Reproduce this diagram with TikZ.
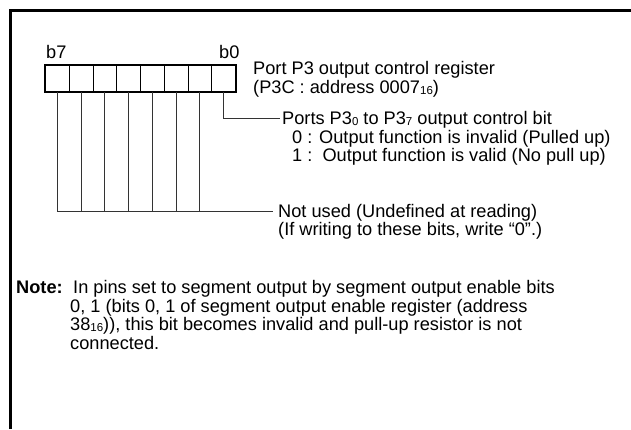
\documentclass[tikz,border=0pt]{standalone}
\usepackage{fontspec}
\setmainfont{Liberation Sans}
\newcommand{\subx}[1]{\raisebox{-1.2pt}{\fontsize{11.5}{11.5}\selectfont #1}}
\begin{document}
\begin{tikzpicture}[x=1pt,y=-1pt,
  txt/.style={anchor=base west,inner sep=0pt,font=\fontsize{18.2}{19}\selectfont},
  cell/.style={draw,line width=1.1pt,minimum width=23.75pt,minimum height=26pt,inner sep=0pt,anchor=north west},
  lead/.style={draw,black!80,line width=1pt}]
\useasboundingbox (0,0) rectangle (631,429);
\draw[line width=3pt] (10.5,429) -- (10.5,10.5) -- (631,10.5);
% register cells
\foreach \i in {7,...,0}{
  \node[cell] (c\i) at ({45+(7-\i)*23.75},64.5) {};
}
\draw[line width=2pt] (c7.north west) rectangle (c0.south east);
\node[txt] (b7) at (46,58.5) {b7};
\node[txt] (b0) at (219,58.5) {b0};
% texts
\node[txt] (reg1) at (253,74.5) {Port P3 output control register};
\node[txt] (reg2) at (253,93) {(P3C : address 0007\subx{16})};
\node[txt] (bit1) at (282,124.5) {Ports P3\subx{0} to P3\subx{7} output control bit};
\node[txt] (bit2) at (292,143.5) {0 : Output function is invalid (Pulled up)};
\node[txt] (bit3) at (292,161.5) {1 :\ \ Output function is valid (No pull up)};
\node[txt] (nu1) at (278,217.5) {Not used (Undefined at reading)};
\node[txt] (nu2) at (278,235.5) {(If writing to these bits, write “0”.)};
\node[txt,font=\fontsize{18.2}{19}\selectfont\bfseries] (note) at (16,293.5) {Note:};
\node[txt] (n1) at (73,293.5) {In pins set to segment output by segment output enable bits};
\node[txt] (n2) at (70,312) {0, 1 (bits 0, 1 of segment output enable register (address};
\node[txt] (n3) at (70,330.5) {38\subx{16})), this bit becomes invalid and pull-up resistor is not};
\node[txt] (n4) at (70,349) {connected.};
% leaders
\coordinate (p0end) at (280,118);
\coordinate (nuend) at (273,211);
\draw[lead] (c0.south) |- (p0end);
\draw[lead] (c7.south) |- (nuend);
\foreach \i in {6,...,1}{
  \draw[lead] (c\i.south) -- (c\i.south |- nuend);
}
\end{tikzpicture}
\end{document}
